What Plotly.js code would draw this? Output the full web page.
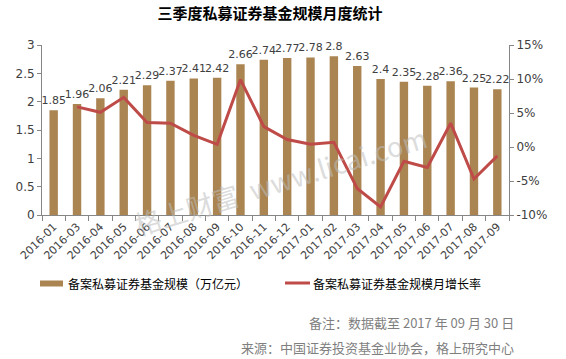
<!DOCTYPE html>
<html>
<head>
<meta charset="utf-8">
<script src="https://cdn.plot.ly/plotly-3.0.1.min.js"></script>
<style>html,body{margin:0;padding:0;background:#fff;}#chart{width:566px;height:359px;}</style>
</head>
<body>
<div id="chart"></div>
<script>
var categories = ["2016-01","2016-03","2016-04","2016-05","2016-06","2016-07","2016-08","2016-09","2016-10","2016-11","2016-12","2017-01","2017-02","2017-03","2017-04","2017-05","2017-06","2017-07","2017-08","2017-09"];
var scaleValues = [1.85,1.96,2.06,2.21,2.29,2.37,2.41,2.42,2.66,2.74,2.77,2.78,2.8,2.63,2.4,2.35,2.28,2.36,2.25,2.22];
var growthPct = [null,5.9,5.1,7.3,3.6,3.5,1.7,0.4,9.9,3.0,1.1,0.4,0.7,-6.1,-8.8,-2.1,-3.0,3.5,-4.7,-1.3];
var barName = "备案私募证券基金规模（万亿元）";
var lineName = "备案私募证券基金规模月增长率";
var titleText = "三季度私募证券基金规模月度统计";
var note1 = "备注：数据截至 2017 年 09 月 30 日";
var note2 = "来源：中国证券投资基金业协会，格上研究中心";
var watermark = "格上财富  www.licai.com";
var leftTicks = [0,0.5,1,1.5,2,2.5,3];
var rightTicks = [-10,-5,0,5,10,15];
var rightTickText = ["-10%","-5%","0%","5%","10%","15%"];

var FONT = "DejaVu Sans, Noto Sans CJK SC, sans-serif";
var CJK = "Noto Sans CJK SC, sans-serif";
var barColor = "#AA8552";
var lineColor = "#BE4B48";
var axisColor = "#868686";

// plot area: x 42..509, y 45..215 (px)
var L = 42, R = 509, T = 45, B = 215, W = 566, H = 359;
function px(x){ return (x - L) / (R - L); }
function py(y){ return (B - y) / (B - T); }

var traces = [
  {
    type: "bar", x: categories, y: scaleValues, name: barName,
    marker: {color: barColor},
    text: scaleValues.map(function(v){ return String(v); }),
    textposition: "outside", constraintext: "none", cliponaxis: false,
    textfont: {family: FONT, size: 11, color: "#404040"},
    hoverinfo: "skip", showlegend: false
  },
  {
    type: "scatter", mode: "lines", x: categories, y: growthPct, name: lineName,
    yaxis: "y2", line: {color: lineColor, width: 3}, connectgaps: false,
    hoverinfo: "skip", showlegend: false
  }
];

var layout = {
  width: W, height: H,
  margin: {l: L, r: W - R, t: T, b: H - B, pad: 0},
  paper_bgcolor: "#fff", plot_bgcolor: "#fff",
  bargap: 0.64,
  font: {family: FONT, size: 11, color: "#404040"},
  title: {text: "<b>" + titleText + "</b>", x: 0.477, xanchor: "center", y: 0.962, yanchor: "middle",
          font: {family: CJK, size: 15, color: "#000"}},
  xaxis: {
    type: "category", showgrid: false, zeroline: false,
    showline: true, linecolor: axisColor, linewidth: 1,
    ticks: "outside", tickson: "boundaries", ticklen: 5, tickcolor: axisColor,
    tickangle: -45, tickfont: {family: FONT, size: 11, color: "#404040"},
    fixedrange: true
  },
  yaxis: {
    range: [0, 3], tickvals: leftTicks, ticktext: leftTicks.map(String),
    showgrid: false, zeroline: false, showline: true, linecolor: axisColor,
    ticks: "outside", ticklen: 4, tickcolor: axisColor,
    tickfont: {family: FONT, size: 12, color: "#404040"}, fixedrange: true
  },
  yaxis2: {
    overlaying: "y", side: "right", range: [-10, 15],
    tickvals: rightTicks, ticktext: rightTickText,
    showgrid: false, zeroline: false, showline: true, linecolor: axisColor,
    ticks: "outside", ticklen: 4, tickcolor: axisColor,
    tickfont: {family: FONT, size: 12, color: "#404040"}, fixedrange: true
  },
  shapes: [
    {type: "rect", xref: "paper", yref: "paper", x0: px(40), x1: px(63), y0: py(280.5), y1: py(286.5),
     fillcolor: barColor, line: {width: 0}},
    {type: "line", xref: "paper", yref: "paper", x0: px(285), x1: px(310), y0: py(283), y1: py(283),
     line: {color: lineColor, width: 3}}
  ],
  annotations: [
    {xref: "paper", yref: "paper", x: px(66), y: py(283), xanchor: "left", yanchor: "middle",
     text: barName, showarrow: false, font: {family: CJK, size: 12, color: "#000"}},
    {xref: "paper", yref: "paper", x: px(311), y: py(283), xanchor: "left", yanchor: "middle",
     text: lineName, showarrow: false, font: {family: CJK, size: 12, color: "#000"}},
    {xref: "paper", yref: "paper", x: px(516), y: py(322), xanchor: "right", yanchor: "middle",
     text: note1, showarrow: false, font: {family: CJK, size: 13, color: "#7f7f7f"}},
    {xref: "paper", yref: "paper", x: px(516), y: py(347), xanchor: "right", yanchor: "middle",
     text: note2, showarrow: false, font: {family: CJK, size: 13, color: "#7f7f7f"}},
    {xref: "paper", yref: "paper", x: px(280), y: py(180), xanchor: "center", yanchor: "middle",
     text: watermark, showarrow: false, textangle: -17,
     font: {family: CJK, size: 27, color: "rgba(190,190,190,0.55)"}}
  ]
};

Plotly.newPlot("chart", traces, layout, {displayModeBar: false, staticPlot: true});
</script>
</body>
</html>
